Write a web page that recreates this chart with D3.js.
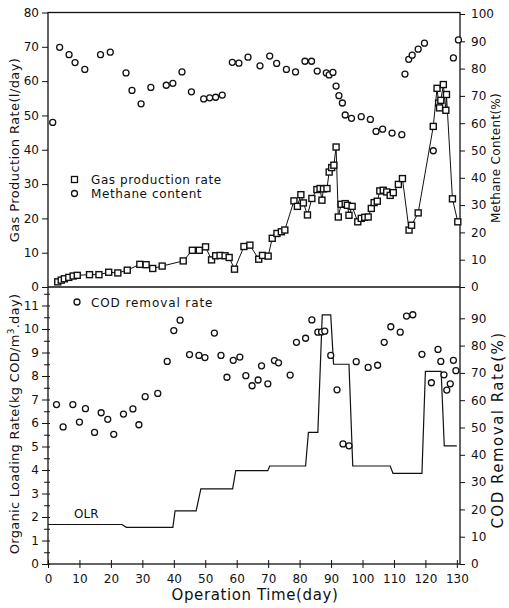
<!DOCTYPE html>
<html>
<head>
<meta charset="utf-8">
<script src="https://cdn.jsdelivr.net/npm/d3@7"></script>
<style>
  body { margin: 0; background: #fff; }
  text { font-family: "DejaVu Sans", sans-serif; fill: #111; }
</style>
</head>
<body>
<div id="chart"></div>
<script>
// gas production rate (l/day), squares joined by a line
const gasDays = [3.1, 4.2, 5.2, 6.6, 8.0, 9.3, 13.2, 16.2, 19.3, 22.2, 25.2, 29.2, 31.2, 33.3, 36.3, 43.0,
  45.9, 48.1, 50.1, 52.0, 53.3, 54.7, 56.3, 57.6, 59.3, 62.3, 64.2, 67.0, 68.2, 70.0, 71.3, 72.8, 74.2, 75.3,
  78.2, 79.3, 80.4, 81.2, 82.5, 83.9, 85.5, 86.5, 87.1, 87.6, 88.7, 89.4, 90.2, 90.9, 91.6, 92.3, 93.2, 94.5,
  95.2, 95.7, 96.7, 98.5, 99.6, 100.7, 101.8, 102.8, 103.7, 104.7, 105.5, 106.6, 107.7, 108.8, 109.8, 111.4,
  112.7, 114.8, 115.6, 117.7, 122.5, 123.7, 124.2, 124.5, 124.9, 125.7, 126.5, 126.7, 128.6, 130.3];
const gasRate = [1.5, 2.0, 2.4, 2.8, 3.2, 3.4, 3.6, 3.6, 4.3, 4.1, 4.9, 6.6, 6.5, 5.4, 6.1, 7.6,
  10.7, 10.7, 11.7, 7.9, 9.1, 9.2, 9.1, 8.6, 5.2, 11.8, 12.2, 8.1, 9.2, 9.0, 14.2, 15.6, 16.1, 16.6,
  25.1, 23.5, 26.9, 24.5, 21.0, 25.8, 28.4, 28.7, 25.3, 28.6, 28.7, 33.5, 34.8, 35.5, 40.8, 20.4, 24.1, 24.3,
  23.8, 20.9, 23.5, 19.0, 20.0, 20.3, 20.4, 22.9, 24.6, 25.0, 28.0, 28.2, 27.7, 26.7, 27.5, 29.9,
  31.6, 16.6, 18.0, 21.6, 46.8, 57.9, 53.6, 52.2, 54.4, 59.0, 51.5, 56.1, 25.7, 19.0];

// methane content (%), circles on the right axis
const methDays = [1.5, 3.7, 6.7, 8.6, 11.7, 16.7, 19.8, 24.8, 26.7, 29.6, 32.7, 37.6, 39.7, 42.6, 45.6,
  49.5, 51.4, 53.3, 55.4, 58.6, 60.7, 63.6, 67.4, 70.5, 72.7, 75.8, 78.7, 81.7, 83.8, 85.6, 88.5, 89.4,
  90.6, 91.6, 92.5, 93.6, 94.5, 96.5, 99.6, 102.5, 104.3, 106.4, 109.4, 112.5, 113.5, 114.7, 115.8,
  117.7, 119.7, 122.5, 128.9, 130.5];
const methContent = [60.3, 87.8, 85.1, 82.2, 79.7, 85.1, 86.0, 78.4, 72.0, 67.1, 73.1, 73.9, 74.6, 78.8, 71.5,
  68.9, 69.3, 69.5, 70.3, 82.3, 82.0, 84.2, 81.0, 84.6, 81.9, 79.7, 78.8, 82.7, 82.7, 79.1, 78.4, 77.7,
  78.6, 73.6, 70.1, 67.4, 63.0, 61.8, 62.4, 61.4, 57.0, 57.8, 56.4, 55.8, 78.0, 83.4, 84.9,
  87.1, 89.3, 49.9, 83.9, 90.5];

// COD removal rate (%), circles on the right axis of the lower panel
const codDays = [2.7, 4.8, 7.9, 10.0, 11.9, 14.8, 16.9, 19.0, 20.9, 24.0, 27.0, 28.9, 30.9, 34.9, 37.9,
  40.0, 42.0, 45.0, 48.0, 49.9, 52.9, 55.0, 56.9, 58.9, 61.0, 62.9, 64.9, 66.8, 67.9, 69.9, 72.0, 73.3,
  77.0, 79.0, 81.9, 83.9, 85.8, 87.0, 88.0, 89.9, 91.9, 93.8, 95.7, 98.0, 101.8, 104.8, 106.9, 109.0,
  112.0, 114.0, 116.0, 118.9, 121.9, 124.0, 124.9, 125.9, 126.8, 127.9, 128.9, 129.7];
const codRemoval = [58.4, 50.2, 58.4, 52.0, 56.9, 48.2, 55.4, 53.0, 47.5, 54.9, 56.8, 51.0, 61.3, 62.5, 74.2,
  85.5, 89.3, 76.7, 76.4, 75.6, 84.6, 76.4, 68.4, 74.6, 75.8, 69.0, 65.3, 67.4, 72.6, 66.0, 74.5, 73.7,
  69.2, 81.2, 82.7, 89.4, 84.9, 85.0, 85.3, 76.4, 63.8, 44.0, 43.3, 74.1, 72.0, 72.8, 81.2, 86.9,
  84.9, 90.8, 91.3, 76.8, 66.4, 78.6, 74.2, 69.3, 63.7, 66.0, 74.6, 70.8];

// organic loading rate (kg COD/m3.day), step line
const olrDays = [0, 23.5, 24.9, 39.7, 40.4, 47.1, 48.6, 58.7, 59.7, 69.9, 70.5, 81.9, 82.8, 85.8, 87.2,
  89.9, 90.8, 95.7, 96.9, 108.8, 109.7, 118.9, 120.0, 125.0, 126.0, 130.0];
const olrValues = [1.68, 1.68, 1.56, 1.56, 2.26, 2.26, 3.2, 3.2, 3.97, 3.97, 4.17, 4.17, 5.6, 5.6, 10.6,
  10.6, 8.5, 8.5, 4.17, 4.17, 3.86, 3.86, 8.2, 8.2, 5.03, 5.03];

const xTicks = d3.range(0, 131, 10);
const gasTicks = d3.range(0, 81, 10);
const methTicks = d3.range(0, 101, 10);
const olrTicks = d3.range(0, 12, 1);
const olrMinor = d3.range(0.5, 11.8, 1);
const codTicks = d3.range(0, 91, 10);

const width = 509, height = 608;
const plotLeft = 48, plotRight = 460, plotTop = 12.5, plotMid = 287, plotBottom = 564;

const svg = d3.select("#chart")
  .append("svg")
  .attr("width", width)
  .attr("height", height);

const x = d3.scaleLinear().domain([0, 131]).range([plotLeft, plotRight]);
const yGas = d3.scaleLinear().domain([0, 80]).range([plotMid, plotTop]);
const yMeth = d3.scaleLinear().domain([0, 100]).range([plotMid, 14]);
const yOlr = d3.scaleLinear().domain([0, 11]).range([plotBottom, 305.5]);
const yCod = d3.scaleLinear().domain([0, 100]).range([plotBottom, 291]);

// frame
svg.append("rect")
  .attr("x", plotLeft).attr("y", plotTop)
  .attr("width", plotRight - plotLeft).attr("height", plotBottom - plotTop)
  .attr("fill", "none").attr("stroke", "#111").attr("stroke-width", 1.3);
svg.append("line")
  .attr("x1", plotLeft).attr("x2", plotRight).attr("y1", plotMid).attr("y2", plotMid)
  .attr("stroke", "#111").attr("stroke-width", 1.3);

function styleAxis(g, size) {
  g.select(".domain").remove();
  g.selectAll(".tick line").attr("stroke", "#111").attr("stroke-width", 1);
  g.selectAll("text").style("font-size", size + "px").attr("fill", "#111");
}

// x axis
svg.append("g")
  .attr("transform", `translate(0,${plotBottom})`)
  .call(d3.axisBottom(x).tickValues(xTicks).tickSize(4).tickPadding(6))
  .call(g => styleAxis(g, 12))
  .call(g => g.selectAll(".tick line").attr("y1", -4));

// left axes
svg.append("g")
  .attr("transform", `translate(${plotLeft},0)`)
  .call(d3.axisLeft(yGas).tickValues(gasTicks).tickSize(6).tickPadding(3))
  .call(g => styleAxis(g, 12));
svg.append("g")
  .attr("transform", `translate(${plotLeft},0)`)
  .call(d3.axisLeft(yOlr).tickValues(olrTicks.slice(0, 12)).tickSize(6).tickPadding(3))
  .call(g => styleAxis(g, 12))
  .call(g => g.selectAll(".tick line").attr("x1", 2));
svg.append("g")
  .attr("transform", `translate(${plotLeft},0)`)
  .call(d3.axisLeft(yOlr).tickValues(olrMinor).tickSize(4).tickFormat(""))
  .call(g => styleAxis(g, 12))
  .call(g => g.selectAll(".tick line").attr("x1", 2));

// right axes
svg.append("g")
  .attr("transform", `translate(${plotRight},0)`)
  .call(d3.axisRight(yMeth).tickValues(methTicks).tickSize(5).tickPadding(6))
  .call(g => styleAxis(g, 12));
svg.append("g")
  .attr("transform", `translate(${plotRight},0)`)
  .call(d3.axisRight(yCod).tickValues(codTicks).tickSize(5).tickPadding(6))
  .call(g => styleAxis(g, 12));

// gas production line + squares
const gasData = gasDays.map((d, i) => ({day: d, value: gasRate[i]}));
svg.append("path")
  .datum(gasData)
  .attr("fill", "none").attr("stroke", "#111").attr("stroke-width", 1)
  .attr("d", d3.line().x(d => x(d.day)).y(d => yGas(d.value)));
svg.append("g")
  .selectAll("rect")
  .data(gasData)
  .join("rect")
  .attr("x", d => x(d.day) - 3).attr("y", d => yGas(d.value) - 3)
  .attr("width", 6).attr("height", 6)
  .attr("fill", "#fff").attr("stroke", "#111").attr("stroke-width", 1.4);

// methane circles
svg.append("g")
  .selectAll("circle")
  .data(methDays.map((d, i) => ({day: d, value: methContent[i]})))
  .join("circle")
  .attr("cx", d => x(d.day)).attr("cy", d => yMeth(d.value)).attr("r", 3)
  .attr("fill", "#fff").attr("stroke", "#111").attr("stroke-width", 1.3);

// OLR line
svg.append("path")
  .datum(olrDays.map((d, i) => ({day: d, value: olrValues[i]})))
  .attr("fill", "none").attr("stroke", "#111").attr("stroke-width", 1.2)
  .attr("d", d3.line().x(d => x(d.day)).y(d => yOlr(d.value)));

// COD circles
svg.append("g")
  .selectAll("circle")
  .data(codDays.map((d, i) => ({day: d, value: codRemoval[i]})))
  .join("circle")
  .attr("cx", d => x(d.day)).attr("cy", d => yCod(d.value)).attr("r", 3)
  .attr("fill", "#fff").attr("stroke", "#111").attr("stroke-width", 1.3);

// legends
svg.append("rect").attr("x", 71.5).attr("y", 176.5).attr("width", 6).attr("height", 6)
  .attr("fill", "#fff").attr("stroke", "#111").attr("stroke-width", 1.3);
svg.append("text").attr("x", 91).attr("y", 184).style("font-size", "12px")
  .style("letter-spacing", "0.6px").text("Gas production rate");
svg.append("circle").attr("cx", 74.5).attr("cy", 193.5).attr("r", 3)
  .attr("fill", "#fff").attr("stroke", "#111").attr("stroke-width", 1.3);
svg.append("text").attr("x", 91).attr("y", 198).style("font-size", "12px")
  .style("letter-spacing", "0.6px").text("Methane content");
svg.append("circle").attr("cx", 77).attr("cy", 302).attr("r", 3)
  .attr("fill", "#fff").attr("stroke", "#111").attr("stroke-width", 1.3);
svg.append("text").attr("x", 91).attr("y", 306.5).style("font-size", "12px")
  .style("letter-spacing", "0.9px").text("COD removal rate");
svg.append("text").attr("x", 74).attr("y", 518).style("font-size", "12px").text("OLR");

// axis titles
svg.append("text")
  .attr("transform", "translate(19,150) rotate(-90)")
  .attr("text-anchor", "middle").style("font-size", "13px").style("letter-spacing", "0.4px")
  .text("Gas Production Rate(l/day)");
const olrTitle = svg.append("text")
  .attr("transform", "translate(19,424) rotate(-90)")
  .attr("text-anchor", "middle").style("font-size", "13px").style("letter-spacing", "0.3px");
olrTitle.append("tspan").text("Organic Loading Rate(kg COD/m");
olrTitle.append("tspan").attr("dy", -5).style("font-size", "9px").text("3");
olrTitle.append("tspan").attr("dy", 5).text(".day)");
svg.append("text")
  .attr("transform", "translate(500,158) rotate(-90)")
  .attr("text-anchor", "middle").style("font-size", "12px").style("letter-spacing", "0.3px")
  .text("Methane Content(%)");
svg.append("text")
  .attr("transform", "translate(503,430) rotate(-90)")
  .attr("text-anchor", "middle").style("font-size", "15px").style("letter-spacing", "1.5px")
  .text("COD Removal Rate(%)");
svg.append("text")
  .attr("x", 255).attr("y", 600)
  .attr("text-anchor", "middle").style("font-size", "15px").style("letter-spacing", "0.6px")
  .text("Operation Time(day)");
</script>
</body>
</html>
